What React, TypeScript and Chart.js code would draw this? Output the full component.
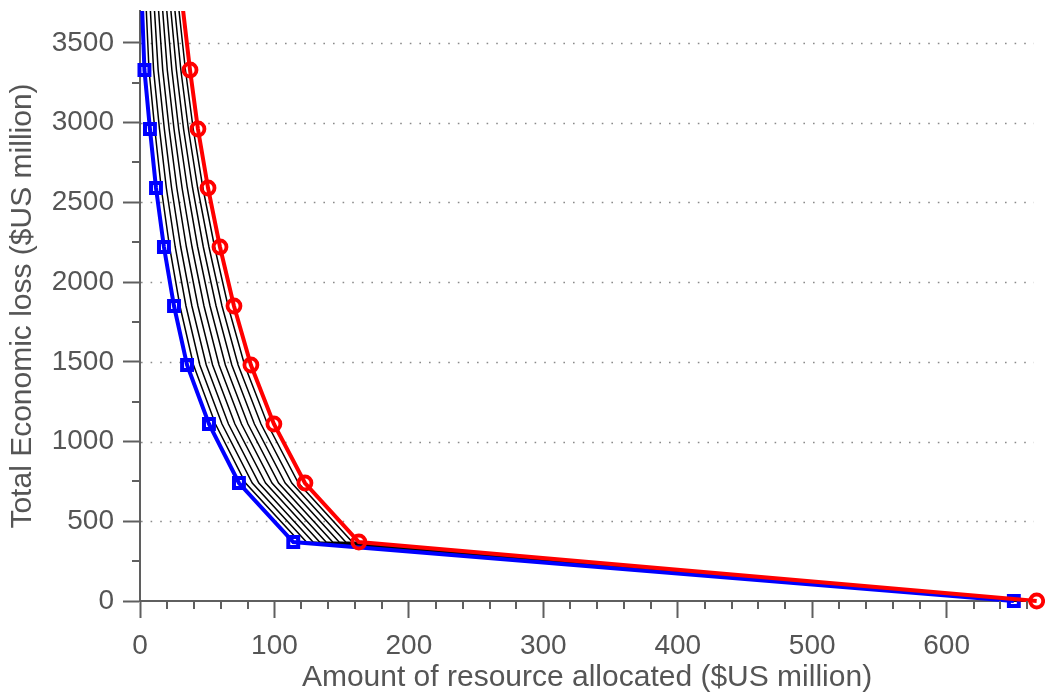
import React, { useEffect, useRef } from "react";
import { Chart, registerables } from "chart.js";

Chart.register(...registerables);

// Total economic loss levels ($US million) shared by every curve
const lossLevels = [0, 370, 740, 1110, 1480, 1850, 2220, 2590, 2960, 3330, 4070];

// Resource allocated ($US million) for each curve at the loss levels above
const lowerBoundAlloc = [650, 114, 73.6, 51.3, 35, 25.3, 17.8, 11.9, 7.4, 3.3, 0];
const upperBoundAlloc = [667, 162.8, 122.7, 99.6, 82.5, 69.9, 59.5, 50.6, 43.1, 37.2, 27];

const midAlloc1 = [651.7, 118.9, 78.5, 56.1, 39.8, 29.7, 22.0, 15.8, 11.0, 6.7, 2.7];
const midAlloc2 = [653.4, 123.8, 83.5, 61.0, 44.5, 34.2, 26.2, 19.6, 14.5, 10.1, 5.4];
const midAlloc3 = [655.1, 128.7, 88.4, 65.8, 49.3, 38.6, 30.3, 23.5, 18.1, 13.5, 8.1];
const midAlloc4 = [656.8, 133.6, 93.4, 70.6, 54.0, 43.1, 34.5, 27.4, 21.7, 16.9, 10.8];
const midAlloc5 = [658.5, 138.4, 98.2, 75.5, 58.8, 47.6, 38.7, 31.3, 25.3, 20.3, 13.5];
const midAlloc6 = [660.2, 143.3, 103.1, 80.3, 63.5, 52.1, 42.9, 35.2, 28.8, 23.7, 16.2];
const midAlloc7 = [661.9, 148.1, 108.0, 85.1, 68.3, 56.6, 47.1, 39.1, 32.4, 27.1, 18.9];
const midAlloc8 = [663.6, 153.0, 112.9, 90.0, 73.0, 61.0, 51.3, 42.9, 36.0, 30.4, 21.6];
const midAlloc9 = [665.3, 157.9, 117.8, 94.8, 77.8, 65.5, 55.5, 46.8, 39.6, 33.8, 24.3];

const midCurves = [
  midAlloc1, midAlloc2, midAlloc3, midAlloc4, midAlloc5,
  midAlloc6, midAlloc7, midAlloc8, midAlloc9,
];

// Axis tick labels
const xTickValues = [0, 100, 200, 300, 400, 500, 600];
const yTickValues = [0, 500, 1000, 1500, 2000, 2500, 3000, 3500];
const xMinorTickValues = [20, 40, 60, 80, 120, 140, 160, 180, 220, 240, 260, 280, 320, 340, 360, 380, 420, 440, 460, 480, 520, 540, 560, 580, 620, 640, 660];
const yMinorTickValues = [250, 750, 1250, 1750, 2250, 2750, 3250];

const xTitle = "Amount of resource allocated ($US million)";
const yTitle = "Total Economic loss ($US million)";

const FONT = "'Liberation Sans', Arial, Helvetica, sans-serif";
const TEXT_COLOR = "#555555";
const AXIS_COLOR = "#5f5f5f";

const toPoints = (xs: number[]) => lossLevels.map((y, i) => ({ x: xs[i], y }));

const dottedGrid = {
  id: "dottedGrid",
  beforeDatasetsDraw(chart: any) {
    const { ctx, chartArea, scales } = chart;
    const y = scales.y;
    ctx.save();
    ctx.strokeStyle = "#8a8a8a";
    ctx.lineWidth = 1.6;
    ctx.setLineDash([1.6, 8]);
    for (const v of yTickValues) {
      if (v === 0) continue;
      const py = Math.round(y.getPixelForValue(v)) + 0.5;
      ctx.beginPath();
      ctx.moveTo(chartArea.left + 1, py);
      ctx.lineTo(chartArea.right, py);
      ctx.stroke();
    }
    ctx.restore();
  },
};

const minorTicks = {
  id: "minorTicks",
  afterDraw(chart: any) {
    const { ctx, chartArea, scales } = chart;
    ctx.save();
    ctx.strokeStyle = AXIS_COLOR;
    ctx.lineWidth = 2;
    ctx.setLineDash([]);
    for (const v of xMinorTickValues) {
      const px = Math.round(scales.x.getPixelForValue(v));
      ctx.beginPath();
      ctx.moveTo(px, chartArea.bottom);
      ctx.lineTo(px, chartArea.bottom + 8);
      ctx.stroke();
    }
    for (const v of yMinorTickValues) {
      const py = Math.round(scales.y.getPixelForValue(v));
      ctx.beginPath();
      ctx.moveTo(chartArea.left - 8, py);
      ctx.lineTo(chartArea.left, py);
      ctx.stroke();
    }
    ctx.restore();
  },
};

const zeroPadding = (scale: any) => {
  scale.paddingTop = 0;
  scale.paddingBottom = 0;
  scale.paddingLeft = 0;
  scale.paddingRight = 0;
};

export default function App() {
  const canvasRef = useRef<HTMLCanvasElement | null>(null);

  useEffect(() => {
    if (!canvasRef.current) return;

    const blackSets = midCurves.map((arr, i) => ({
      label: `curve ${i + 1}`,
      data: toPoints(arr),
      borderColor: "#000000",
      borderWidth: 1.5,
      pointRadius: 0,
      tension: 0,
      order: 2,
      clip: { left: 5, right: 12, top: 0, bottom: 5 },
    }));

    const chart = new Chart(canvasRef.current, {
      type: "line",
      data: {
        datasets: [
          {
            label: "upper",
            data: toPoints(upperBoundAlloc),
            borderColor: "#ff0000",
            borderWidth: 4,
            pointStyle: "circle",
            pointRadius: 6.5,
            pointBorderWidth: 3.8,
            pointBorderColor: "#ff0000",
            pointBackgroundColor: "rgba(0,0,0,0)",
            tension: 0,
            order: 0,
            clip: { left: 5, right: 12, top: 0, bottom: 10 },
          },
          {
            label: "lower",
            data: toPoints(lowerBoundAlloc),
            borderColor: "#0000ff",
            borderWidth: 4,
            pointStyle: "rect",
            pointRadius: 7,
            pointBorderWidth: 4,
            pointBorderColor: "#0000ff",
            pointBackgroundColor: "rgba(0,0,0,0)",
            tension: 0,
            order: 1,
            clip: { left: 5, right: 12, top: 0, bottom: 10 },
          },
          ...blackSets,
        ] as any,
      },
      options: {
        animation: false,
        responsive: false,
        events: [],
        layout: { padding: { top: 8, right: 10, left: 0, bottom: 0 } },
        plugins: {
          legend: { display: false },
          tooltip: { enabled: false },
        },
        scales: {
          x: {
            type: "linear",
            min: 0,
            max: 665,
            afterBuildTicks: (scale: any) => {
              scale.ticks = xTickValues.map((v) => ({ value: v }));
            },
            afterFit: (scale: any) => {
              scale.height = 95;
              zeroPadding(scale);
            },
            ticks: {
              color: TEXT_COLOR,
              font: { family: FONT, size: 28 },
              padding: 11,
              maxRotation: 0,
              autoSkip: false,
              callback: (v: any) => String(v),
            },
            grid: {
              drawOnChartArea: false,
              drawTicks: true,
              tickLength: 17,
              tickWidth: 2,
              tickColor: AXIS_COLOR,
              color: AXIS_COLOR,
            },
            border: { display: true, color: AXIS_COLOR, width: 2 },
            title: {
              display: true,
              text: xTitle,
              color: TEXT_COLOR,
              font: { family: FONT, size: 30 },
              padding: { top: 0, bottom: 0 },
            },
          },
          y: {
            type: "linear",
            min: 0,
            max: 3700,
            afterBuildTicks: (scale: any) => {
              scale.ticks = yTickValues.map((v) => ({ value: v }));
            },
            afterFit: (scale: any) => {
              scale.width = 140;
              zeroPadding(scale);
            },
            ticks: {
              color: TEXT_COLOR,
              font: { family: FONT, size: 28 },
              padding: 9,
              autoSkip: false,
              callback: (v: any) => String(v),
            },
            grid: {
              drawOnChartArea: false,
              drawTicks: true,
              tickLength: 17,
              tickWidth: 2,
              tickColor: AXIS_COLOR,
              color: AXIS_COLOR,
            },
            border: { display: true, color: AXIS_COLOR, width: 2 },
            title: {
              display: true,
              text: yTitle,
              color: TEXT_COLOR,
              font: { family: FONT, size: 30 },
              padding: { top: 5, bottom: 0 },
            },
          },
        },
      } as any,
      plugins: [dottedGrid, minorTicks],
    });

    return () => chart.destroy();
  }, []);

  return (
    <div
      style={{
        position: "fixed",
        left: 0,
        top: 0,
        width: 1045,
        height: 696,
        background: "#ffffff",
      }}
    >
      <canvas ref={canvasRef} width={1045} height={696} style={{ width: 1045, height: 696 }} />
    </div>
  );
}
